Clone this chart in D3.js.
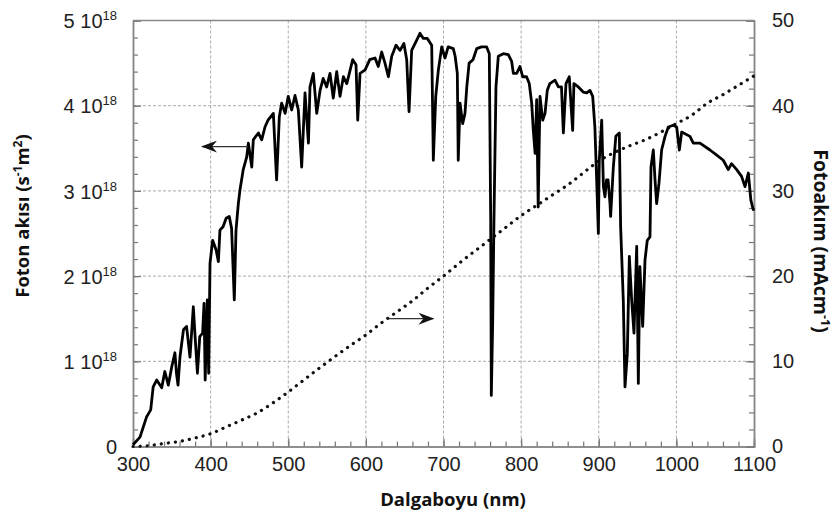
<!DOCTYPE html>
<html>
<head>
<meta charset="utf-8">
<script src="https://cdn.jsdelivr.net/npm/d3@7"></script>
<style>
  body { margin: 0; background: #fff; }
  .tick text { font-family: 'Liberation Sans', Arial, sans-serif; font-size: 20px; fill: #222; }
  .title { font-family: 'Open Sans', sans-serif; font-weight: bold; font-size: 18.5px; fill: #111; }
</style>
</head>
<body>
<div id="show-graph"></div>
<script>
// photon flux spectrum, flux in units of 1e18 s-1 m-2 (per nm)
const wavelengths = [300, 309, 317.6, 322.8, 326, 330.5, 337, 341, 345.5, 350, 354, 356, 358, 360.5, 365, 369, 373.4, 377.7, 380, 383, 386, 389.7, 391.5, 393, 395.7, 397.5, 399.2,
  402.6, 407, 410, 412, 416, 420, 424, 427, 430.5, 432.7, 435.7, 437.8, 442, 446.5, 448.6, 453, 455, 461.5, 465.8, 470, 474, 480.8, 485, 488.5, 491.5, 496,
  500, 504.4, 508.7, 513, 517.3, 521.6, 526, 528, 532.3, 536.7, 541, 545, 549.5, 553.8, 558, 562.4, 566.7, 571, 575.4, 578.7, 583, 587.3, 589.5, 592.5, 599,
  605, 611.8, 616, 620.4, 624.6, 629, 633.3, 638.8, 644, 649, 652.6, 655.6, 659, 665.5, 669.7, 674, 679, 684.8, 686.9, 690, 693.4, 697.7,
  702, 706, 712.6, 715, 717.8, 719, 721.3, 724.7, 727.7, 730, 733, 738, 742.8, 749, 755.6, 759, 760.8, 761.6, 763.4, 765, 767.6, 770.6, 777, 783.5, 787.8, 790, 794.3, 798.5,
  802, 807, 810.5, 813.6, 815.7, 818, 820, 822, 824.3, 827.8, 830.8, 833.7, 837, 843.6, 848, 852, 854.4, 857.8, 862, 866.4, 868, 873.7, 880, 884.5, 888.7, 892.2, 895, 897.3, 899.5,
  900.7, 903.8, 906, 908, 910, 912, 914.5, 915.3, 918.8, 922, 926.5, 928.2, 931.6, 933.8, 936.8, 939.4, 942.4, 945.4, 948.9, 951, 953, 956.6, 959.6, 962.5, 966, 967.3, 970.3, 972.5, 974.6, 977.6, 981, 985.4, 989.6, 996,
  1000.4, 1003.8, 1006.8, 1017.5, 1021.8, 1030.4, 1043.3, 1052, 1060.4, 1066.9, 1071, 1077.7, 1084, 1088.4, 1092.7, 1096, 1099, 1100]
const photonFlux = [0.02, 0.11, 0.35, 0.43, 0.70, 0.78, 0.69, 0.88, 0.72, 0.94, 1.10, 0.86, 0.72, 1.05, 1.37, 1.41, 1.05, 1.64, 1.29, 0.86, 1.29, 1.33, 1.68, 0.78, 1.72, 0.86, 2.15,
  2.42, 2.31, 2.17, 2.54, 2.58, 2.68, 2.70, 2.56, 1.72, 2.54, 2.85, 3.01, 3.25, 3.40, 3.56, 3.28, 3.60, 3.68, 3.60, 3.75, 3.83, 3.91, 3.13, 3.87, 4.03, 3.91,
  4.11, 3.95, 4.12, 3.95, 3.28, 4.15, 3.56, 4.22, 4.38, 3.91, 4.18, 4.32, 4.22, 4.38, 4.09, 4.40, 4.11, 4.34, 4.26, 4.38, 4.54, 4.48, 3.83, 4.38, 4.42,
  4.54, 4.56, 4.46, 4.63, 4.50, 4.34, 4.58, 4.71, 4.65, 4.73, 4.54, 3.93, 4.65, 4.77, 4.85, 4.79, 4.79, 4.71, 3.36, 4.11, 4.42, 4.69,
  4.56, 4.69, 4.67, 4.58, 4.38, 3.36, 4.03, 3.79, 3.91, 4.22, 4.50, 4.54, 4.67, 4.69, 4.69, 4.61, 2.66, 0.60, 1.48, 2.66, 4.22, 4.58, 4.61, 4.60, 4.52, 4.38, 4.38, 4.46,
  4.34, 4.34, 4.26, 4.03, 3.71, 3.44, 4.07, 2.81, 4.11, 3.83, 3.91, 4.18, 4.26, 4.30, 4.22, 4.22, 3.68, 4.26, 4.34, 3.71, 4.26, 4.22, 4.16, 4.15, 4.18, 4.11, 3.75, 3.13, 2.50,
  3.36, 3.83, 3.05, 2.93, 3.13, 3.13, 2.85, 2.70, 3.28, 3.64, 3.68, 2.58, 1.72, 0.70, 1.09, 2.23, 1.72, 1.33, 2.35, 0.74, 2.11, 1.41, 2.19, 2.42, 2.46, 3.28, 3.48, 3.13, 2.85, 3.09, 3.48, 3.64, 3.75, 3.77,
  3.75, 3.48, 3.69, 3.64, 3.56, 3.56, 3.48, 3.42, 3.36, 3.25, 3.32, 3.25, 3.17, 3.05, 3.21, 2.89, 2.78, 2.80]

// cumulative photocurrent (mA cm-1)
const currentWl = [300, 320, 340, 360, 380, 400, 420, 440, 460, 480, 500, 520, 540, 560, 580, 600, 620, 640, 660, 680, 700,
  720, 740, 760, 780, 800, 820, 840, 860, 880, 900, 920, 940, 960, 980, 1000, 1020, 1040, 1060, 1080, 1100]
const photocurrent = [0, 0.1, 0.35, 0.6, 1.0, 1.5, 2.3, 3.1, 3.95, 5.1, 6.4, 7.8, 9.2, 10.55, 11.85, 13.1, 14.5, 15.8, 17.1, 18.6, 20.0,
  21.5, 22.9, 24.3, 25.7, 27.1, 28.3, 29.5, 30.7, 32.1, 33.5, 34.5, 35.3, 36.0, 36.9, 37.9, 38.9, 40.3, 41.3, 42.4, 43.5]

const xTicks = [300, 400, 500, 600, 700, 800, 900, 1000, 1100]
const fluxTicks = [0, 1, 2, 3, 4, 5]
const fluxTickLabels = ['0', '1 10', '2 10', '3 10', '4 10', '5 10']
const currentTicks = [0, 10, 20, 30, 40, 50]

const margin = { top: 20.5, right: 80, bottom: 69.5, left: 133 }
const width = 834 - margin.left - margin.right
const height = 516 - margin.top - margin.bottom

const svg = d3.select('#show-graph')
  .append('svg')
  .attr('width', 834)
  .attr('height', 516)
  .append('g')
  .attr('transform', 'translate(' + margin.left + ',' + margin.top + ')')

const xScale = d3.scaleLinear().domain([300, 1100]).range([0, width])
const yFlux = d3.scaleLinear().domain([0, 5]).range([height, 0])
const yCur = d3.scaleLinear().domain([0, 50]).range([height, 0])

// grid
svg.append('g')
  .selectAll('line')
  .data(xTicks.slice(1, -1))
  .join('line')
  .attr('x1', d => xScale(d)).attr('x2', d => xScale(d))
  .attr('y1', 0).attr('y2', height)
  .attr('stroke', '#aaa')
  .attr('stroke-dasharray', '3,2')
svg.append('g')
  .selectAll('line')
  .data(fluxTicks.slice(1, -1))
  .join('line')
  .attr('x1', 0).attr('x2', width)
  .attr('y1', d => yFlux(d)).attr('y2', d => yFlux(d))
  .attr('stroke', '#aaa')
  .attr('stroke-dasharray', '3,2')

const styleAxis = g => {
  g.select('.domain').attr('stroke', '#888').attr('stroke-width', 1.5)
  g.selectAll('.tick line').attr('stroke', '#777').attr('stroke-width', 1.2)
}

// minor ticks
svg.append('g')
  .attr('transform', 'translate(0,' + height + ')')
  .call(d3.axisBottom(xScale).tickValues(d3.range(300, 1101, 20)).tickSize(-5).tickFormat(''))
  .call(styleAxis)
svg.append('g')
  .call(d3.axisLeft(yFlux).tickValues(d3.range(0, 5.01, 0.2)).tickSize(-5).tickFormat(''))
  .call(styleAxis)
svg.append('g')
  .attr('transform', 'translate(' + width + ',0)')
  .call(d3.axisRight(yCur).tickValues(d3.range(0, 50.1, 2)).tickSize(-5).tickFormat(''))
  .call(styleAxis)

// major ticks
svg.append('g')
  .attr('transform', 'translate(0,' + height + ')')
  .call(d3.axisBottom(xScale).tickValues(xTicks).tickSize(-8).tickPadding(10).tickFormat(d3.format('d')))
  .call(styleAxis)

const leftAxis = svg.append('g')
  .call(d3.axisLeft(yFlux).tickValues(fluxTicks).tickSize(-8).tickPadding(16).tickFormat(''))
  .call(styleAxis)
leftAxis.selectAll('.tick text')
  .attr('dy', '0.36em')
  .each(function (d, i) {
    const t = d3.select(this)
    t.append('tspan').text(fluxTickLabels[i])
    if (d > 0) {
      t.append('tspan').text('18').attr('font-size', '13px').attr('dy', '-8')
    }
  })

svg.append('g')
  .attr('transform', 'translate(' + width + ',0)')
  .call(d3.axisRight(yCur).tickValues(currentTicks).tickSize(-8).tickPadding(18))
  .call(styleAxis)

// top frame
svg.append('line')
  .attr('x1', 0).attr('x2', width)
  .attr('y1', 0).attr('y2', 0)
  .attr('stroke', '#888')
  .attr('stroke-width', 1.5)

// photocurrent (dotted)
const curLine = d3.line()
  .x((d, i) => xScale(currentWl[i]))
  .y(d => yCur(d))
  .curve(d3.curveMonotoneX)
svg.append('path')
  .attr('d', curLine(photocurrent))
  .attr('fill', 'none')
  .attr('stroke', '#111')
  .attr('stroke-width', 3.2)
  .attr('stroke-linecap', 'round')
  .attr('stroke-dasharray', '0.1,7')

// spectrum
const fluxLine = d3.line()
  .x((d, i) => xScale(wavelengths[i]))
  .y(d => yFlux(d))
svg.append('path')
  .attr('d', fluxLine(photonFlux))
  .attr('fill', 'none')
  .attr('stroke', '#000')
  .attr('stroke-width', 2.8)
  .attr('stroke-linejoin', 'round')

// arrows
svg.append('defs').append('marker')
  .attr('id', 'head')
  .attr('viewBox', '0 0 16 12')
  .attr('refX', 15).attr('refY', 6)
  .attr('markerWidth', 16).attr('markerHeight', 12)
  .attr('markerUnits', 'userSpaceOnUse')
  .attr('orient', 'auto')
  .append('path')
  .attr('d', 'M0,0 L16,6 L0,12 L5,6 Z')
  .attr('fill', '#111')

const arrow = (x1, x2, y) => svg.append('line')
  .attr('x1', x1).attr('x2', x2)
  .attr('y1', y).attr('y2', y)
  .attr('stroke', '#333')
  .attr('stroke-width', 1.3)
  .attr('marker-end', 'url(#head)')
arrow(xScale(448), xScale(389), yFlux(3.52))
arrow(xScale(628), xScale(687), yCur(15))

// axis titles
svg.append('text')
  .attr('class', 'title')
  .attr('text-anchor', 'middle')
  .attr('x', 453 - margin.left)
  .attr('y', height + 59)
  .text('Dalgaboyu (nm)')

const leftTitle = svg.append('text')
  .attr('class', 'title')
  .attr('text-anchor', 'middle')
  .attr('transform', 'translate(' + (29 - margin.left) + ',' + (216 - margin.top) + ') rotate(-90)')
leftTitle.append('tspan').text('Foton akısı (s')
leftTitle.append('tspan').text('-1').attr('font-size', '12px').attr('dy', '-7')
leftTitle.append('tspan').text('m').attr('dy', '7')
leftTitle.append('tspan').text('2').attr('font-size', '12px').attr('dy', '-7')
leftTitle.append('tspan').text(')').attr('dy', '7')

const rightTitle = svg.append('text')
  .attr('class', 'title')
  .attr('text-anchor', 'middle')
  .attr('font-size', '19.5px')
  .attr('font-weight', 600)
  .style('font-size', '19.5px')
  .attr('transform', 'translate(' + (814 - margin.left) + ',' + (241 - margin.top) + ') rotate(90)')
rightTitle.append('tspan').text('Fotoakım (mAcm')
rightTitle.append('tspan').text('-1').attr('font-size', '12.5px').attr('dy', '-7')
rightTitle.append('tspan').text(')').attr('dy', '7')
</script>
</body>
</html>
